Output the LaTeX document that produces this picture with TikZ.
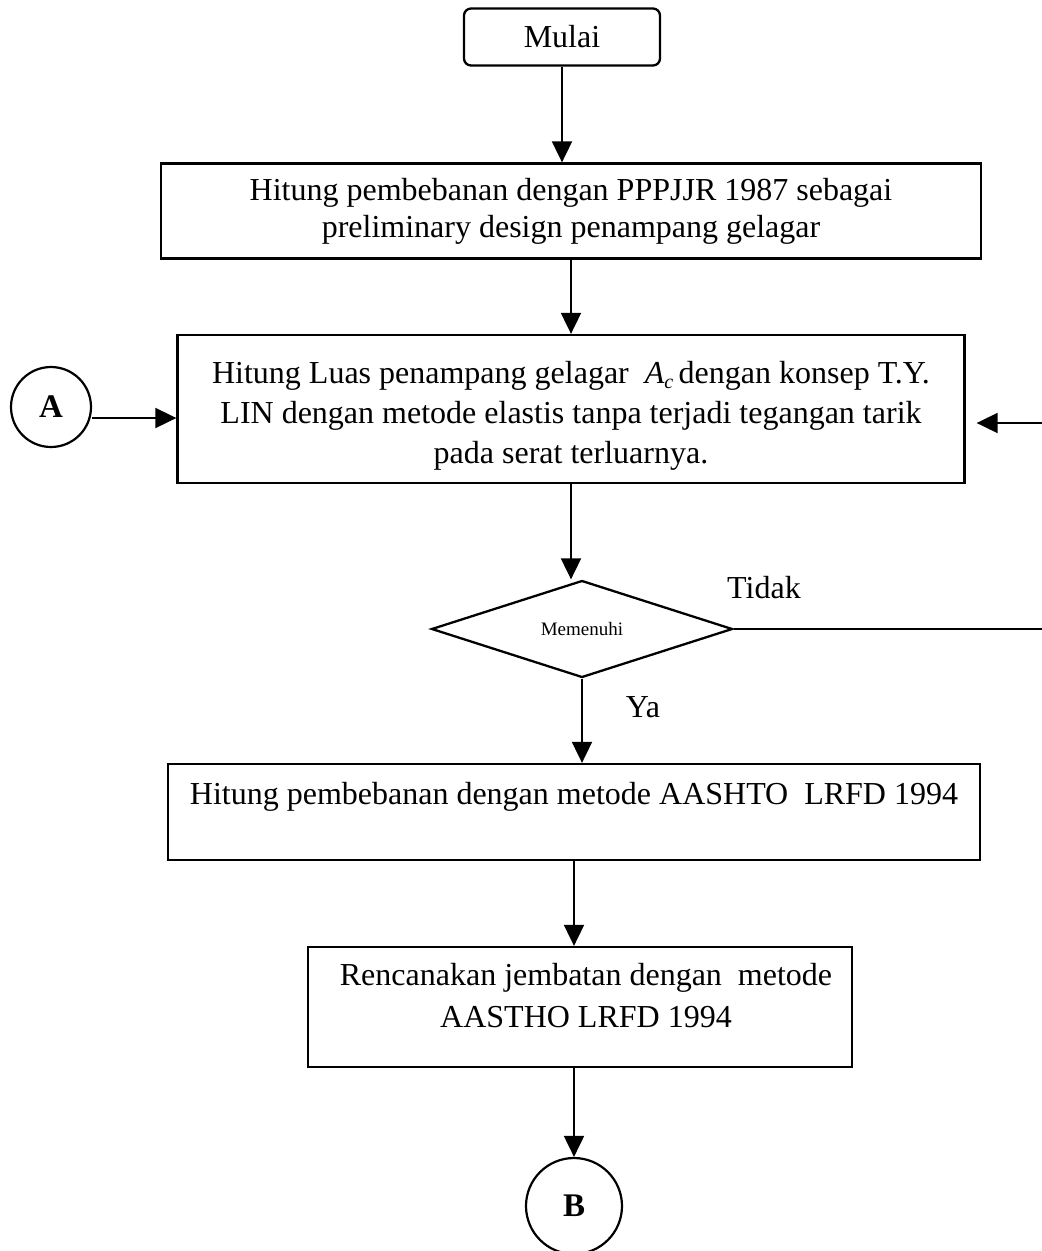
\documentclass[tikz,border=0pt]{standalone}
\usepackage{fontspec}
\setmainfont{Liberation Serif}
\usetikzlibrary{shapes.geometric,arrows.meta}
\begin{document}
\begin{tikzpicture}[x=1pt,y=-1pt,
  procbox/.style={draw,line width=2.3pt,inner sep=0pt},
  txt/.style={font=\fontsize{32}{39}\selectfont,align=center,inner sep=0pt},
  arr/.style={line width=1.9pt,-{Triangle[length=21pt,width=20pt]}},
  plain/.style={line width=2.3pt},
  conn/.style={draw,circle,line width=2.2pt,inner sep=0pt,font=\fontsize{33}{35}\selectfont\bfseries}]
\useasboundingbox (0,0) rectangle (1042,1251);
% nodes
\node[procbox,rounded corners=7pt,minimum width=196pt,minimum height=57pt,txt] (mulai) at (562,37) {Mulai};
\node[procbox,minimum width=820pt,minimum height=95pt,txt,font=\fontsize{32}{37}\selectfont] (box2) at (571,211)
  {Hitung pembebanan dengan PPPJJR 1987 sebagai\\preliminary design penampang gelagar};
\node[procbox,minimum width=787pt,minimum height=148pt] (box3) at (571,409) {};
\node[txt,font=\fontsize{32}{40}\selectfont] (t3) at (571,416)
  {Hitung Luas penampang gelagar \ \textit{A}\raisebox{-0.35ex}{\fontsize{20}{20}\selectfont\textit{c}}\,dengan konsep T.Y.\\
   LIN dengan metode elastis tanpa terjadi tegangan tarik\\pada serat terluarnya.};
\node[conn,minimum size=80pt] (A) at (51,407) {A};
\node[draw,diamond,line width=2.3pt,inner sep=0pt,aspect=3.1,minimum width=301pt,minimum height=97pt,
  font=\fontsize{19}{22}\selectfont] (dia) at (582,629) {Memenuhi};
\node[txt] (tidak) at (764,588) {Tidak};
\node[txt] (ya) at (643,707) {Ya};
\node[procbox,minimum width=812pt,minimum height=96pt] (box4) at (574,812) {};
\node[txt] (t4) at (574,797) {Hitung pembebanan dengan metode AASHTO \ LRFD 1994};
\node[procbox,minimum width=544pt,minimum height=120pt] (box5) at (580,1007) {};
\node[txt,font=\fontsize{32}{42}\selectfont] (t5) at (586,996) {Rencanakan jembatan dengan \ metode\\AASTHO LRFD 1994};
\node[conn,minimum size=96pt] (B) at (574,1206) {B};
% helper coordinates at the picture edge
\coordinate (r1) at (1042,629);
\coordinate (r2) at (1042,423);
\coordinate (ya1) at (0,418);
% connectors
\draw[arr] (mulai.south) -- (mulai.south |- box2.north);
\draw[arr] (box2.south) -- (box2.south |- box3.north);
\draw[arr] (box3.south) -- (box3.south |- dia.north);
\draw[arr] (dia.south) -- (dia.south |- box4.north);
\draw[arr] (box4.south) -- (box4.south |- box5.north);
\draw[arr] (box4.south |- box5.south) -- (B.north);
\draw[arr] (A.east |- ya1) -- (box3.west |- ya1);
\draw[plain] (dia.east) -- (r1);
\draw[arr,shorten >=11pt] (r2) -- (box3.east |- r2);
\end{tikzpicture}
\end{document}
